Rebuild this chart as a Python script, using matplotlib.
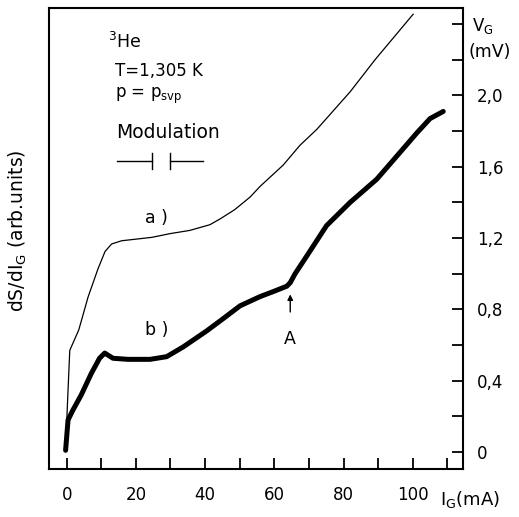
import matplotlib
matplotlib.use("Agg")
import matplotlib.pyplot as plt

# curve a) : V_G (mV) vs I_G (mA), thin trace
ig_a = [-0.3, 0.3, 0.9, 1.8, 3.5, 6.2, 9.1, 11.1, 13.0, 15.9, 24.6, 29.9,
        35.6, 41.4, 44.3, 48.6, 53.0, 55.9, 62.6, 67.4, 72.3, 81.9, 89.1,
        100.1]
vg_a = [0.02, 0.30, 0.57, 0.61, 0.685, 0.87, 1.03, 1.125, 1.167, 1.185,
        1.204, 1.225, 1.243, 1.275, 1.307, 1.36, 1.43, 1.49, 1.61, 1.72,
        1.81, 2.02, 2.20, 2.455]

# curve b) : dS/dI_G (arb. units), thick noisy trace
ig_b = [-0.3, 0.4, 1.8, 4.2, 7.1, 9.5, 11.0, 13.4, 17.7, 24.1, 28.9, 33.7,
        40.5, 45.0, 50.1, 55.9, 59.7, 63.6, 64.6, 66.0, 69.4, 75.1, 81.9,
        89.6, 96.3, 101.2, 105.0, 108.8]
ds_b = [0.01, 0.18, 0.235, 0.32, 0.44, 0.526, 0.555, 0.526, 0.52, 0.52,
        0.535, 0.59, 0.68, 0.745, 0.82, 0.872, 0.90, 0.93, 0.95, 1.00, 1.10,
        1.27, 1.40, 1.53, 1.68, 1.79, 1.87, 1.91]

x_ticks = list(range(0, 111, 10))
x_labels = ["0", "", "20", "", "40", "", "60", "", "80", "", "100", ""]
y_ticks = [0.0, 0.2, 0.4, 0.6, 0.8, 1.0, 1.2, 1.4, 1.6, 1.8, 2.0, 2.2, 2.4]
y_labels = ["0", "", "0,4", "", "0,8", "", "1,2", "", "1,6", "", "2,0", "", ""]

plt.rcParams["font.family"] = "DejaVu Sans"
fig = plt.figure(figsize=(5.19, 5.17), dpi=100)
ax = fig.add_axes([0.0944, 0.0928, 0.7976, 0.8917])

ax.plot(ig_a, vg_a, color="black", lw=0.9)
ax.plot(ig_b, ds_b, color="black", lw=3.6, solid_joinstyle="round",
        solid_capstyle="round")

ax.set_xlim(-5.1, 114.5)
ax.set_ylim(-0.095, 2.49)
for s in ax.spines.values():
    s.set_linewidth(1.5)

ax.set_xticks(x_ticks)
ax.set_xticklabels(x_labels, fontsize=12)
ax.tick_params(axis="x", direction="in", length=8, width=1.3, pad=12)
ax.yaxis.tick_right()
ax.set_yticks(y_ticks)
ax.set_yticklabels(y_labels, fontsize=12)
ax.tick_params(axis="y", direction="in", length=8, width=1.3, pad=10,
               left=False, right=True)

ax.yaxis.set_label_position("left")
ax.set_ylabel(r"dS/dI$_\mathregular{G}$ (arb.units)", fontsize=13.5)
ax.yaxis.set_label_coords(-0.048, 0.516)

fig.text(0.848, 0.023, r"I$_\mathregular{G}$(mA)", fontsize=13)
fig.text(0.91, 0.94, r"V$_\mathregular{G}$", fontsize=12)
fig.text(0.903, 0.89, "(mV)", fontsize=12.5)

ax.text(11.9, 2.30, r"$^\mathregular{3}$He", fontsize=12.5, va="center")
ax.text(14.0, 2.137, "T=1,305 K", fontsize=12, va="center")
ax.text(14.0, 1.996, r"p = p$_\mathregular{svp}$", fontsize=12, va="center")
ax.text(14.2, 1.794, "Modulation", fontsize=13.5, va="center")
ax.plot([14.5, 24.8], [1.63, 1.63], color="black", lw=1)
ax.plot([24.8, 24.8], [1.585, 1.675], color="black", lw=1)
ax.plot([29.8, 29.8], [1.585, 1.675], color="black", lw=1)
ax.plot([29.8, 39.4], [1.63, 1.63], color="black", lw=1)

ax.text(25.9, 1.315, "a )", fontsize=12.5, va="center", ha="center")
ax.text(26.1, 0.685, "b )", fontsize=12.5, va="center", ha="center")

ax.annotate("", xy=(64.6, 0.90), xytext=(64.6, 0.77),
            arrowprops=dict(arrowstyle="-|>", color="black", lw=1,
                            mutation_scale=8))
ax.text(64.6, 0.635, "A", fontsize=12.5, va="center", ha="center")

fig.savefig("out.png", dpi=100)
